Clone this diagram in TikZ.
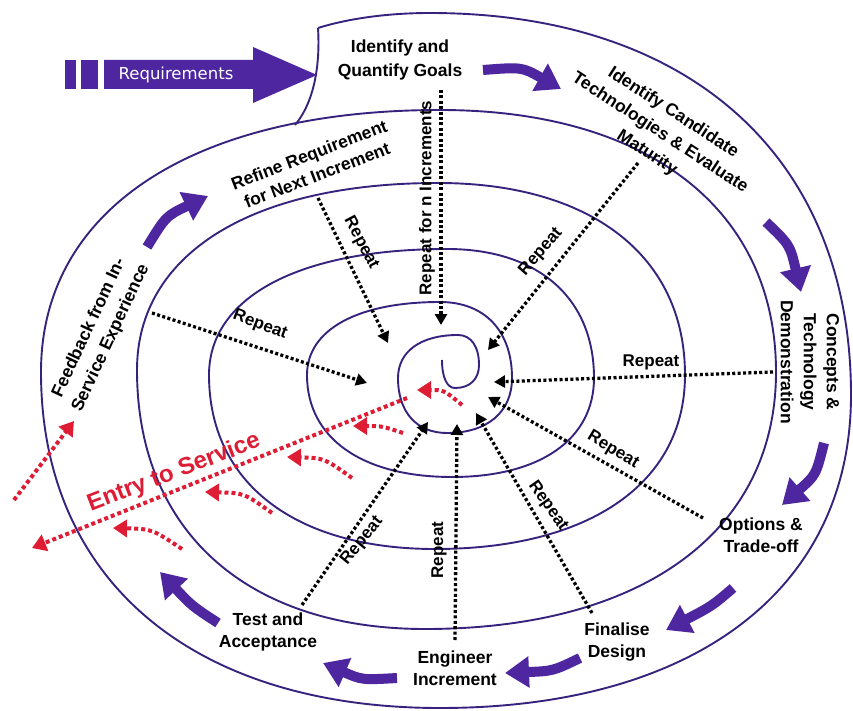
\documentclass[tikz,border=0pt]{standalone}
\usepackage{fontspec}
\setmainfont{Liberation Sans}
\newfontfamily\reqfont{DejaVu Sans}
\usetikzlibrary{arrows.meta,calc}

\definecolor{ringcol}{RGB}{55,35,125}
\definecolor{stepcol}{RGB}{78,38,160}
\definecolor{entrycol}{RGB}{222,28,52}

\begin{document}
\begin{tikzpicture}[x=1pt,y=-1pt,
  spiral/.style={draw=ringcol,line width=1.9pt},
  lbl/.style={font=\bfseries\fontsize{17.5}{22}\selectfont,align=center,inner sep=0pt},
  rep/.style={font=\bfseries\fontsize{17}{20}\selectfont,inner sep=0pt},
  repline/.style={draw=black,line width=3.3pt,dash pattern=on 3pt off 2.4pt,-{Triangle[width=12pt,length=11pt]}},
  redline/.style={draw=entrycol,line width=4pt,dash pattern=on 4pt off 3pt,-{Triangle[width=17pt,length=14pt]}},
  steparrow/.style={draw=stepcol,line width=10pt,-{Triangle[width=30pt,length=24pt]}}]

\fill[white] (0,0) rectangle (853,711);
\useasboundingbox (0,0) rectangle (853,711);
\clip (0,0) rectangle (853,711);

% ---------- spiral: tangent points, alternating vertical / horizontal tangents
\coordinate (p0) at (442,360);
\coordinate (p1) at (455,388);
\coordinate (p2) at (479,365);
\coordinate (p3) at (458,335);
\coordinate (p4) at (398,378);
\coordinate (p5) at (447,433);
\coordinate (p6) at (512,378);
\coordinate (p7) at (440,302);
\coordinate (p8) at (307,375);
\coordinate (p9) at (452,477);
\coordinate (p10) at (594,378);
\coordinate (p11) at (447,249);
\coordinate (p12) at (209,375);
\coordinate (p13) at (435,549);
\coordinate (p14) at (685,375);
\coordinate (p15) at (438,183);
\coordinate (p16) at (137,370);
\coordinate (p17) at (425,629);
\coordinate (p18) at (776,372);
\coordinate (p19) at (440,110);
\coordinate (p20) at (41,372);
\coordinate (p21) at (440,708);
\coordinate (p22) at (851,395);
\coordinate (p23) at (430,13);
\coordinate (gend) at (318,28);
\coordinate (gbot) at (295,125);

\def\kk{0.62}
\foreach \i in {0,...,22}{
  \pgfmathtruncatemacro\j{\i+1}
  \ifodd\i\relax
    \coordinate (k\i) at (p\j |- p\i);
  \else
    \coordinate (k\i) at (p\i |- p\j);
  \fi
  \coordinate (a\i) at ($(p\i)!\kk!(k\i)$);
  \coordinate (b\i) at ($(p\j)!\kk!(k\i)$);
}

\draw[spiral] (p0)
  .. controls (a0) and (b0) .. (p1)
  .. controls (a1) and (b1) .. (p2)
  .. controls (a2) and (b2) .. (p3)
  .. controls (a3) and (b3) .. (p4)
  .. controls (a4) and (b4) .. (p5)
  .. controls (a5) and (b5) .. (p6)
  .. controls (a6) and (b6) .. (p7)
  .. controls (a7) and (b7) .. (p8)
  .. controls (a8) and (b8) .. (p9)
  .. controls (a9) and (b9) .. (p10)
  .. controls (a10) and (b10) .. (p11)
  .. controls (a11) and (b11) .. (p12)
  .. controls (a12) and (b12) .. (p13)
  .. controls (a13) and (b13) .. (p14)
  .. controls (a14) and (b14) .. (p15)
  .. controls (a15) and (b15) .. (p16)
  .. controls (a16) and (b16) .. (p17)
  .. controls (a17) and (b17) .. (p18)
  .. controls (a18) and (b18) .. (p19)
  .. controls (a19) and (b19) .. (p20)
  .. controls (a20) and (b20) .. (p21)
  .. controls (a21) and (b21) .. (p22)
  .. controls (a22) and (b22) .. (p23)
  .. controls (390,13) and (350,18) .. (gend);
% left edge of the goals panel
\draw[spiral] (gend) .. controls (320,60) and (316,100) .. (gbot);

% ---------- Requirements input arrow
\fill[stepcol] (65,60) rectangle (76,89);
\fill[stepcol] (81,60) rectangle (98,89);
\fill[stepcol] (104,60) -- (253,60) -- (253,47) -- (317,75) -- (253,103) -- (253,89) -- (104,89) -- cycle;
\node[font=\reqfont\fontsize{16.5}{20}\selectfont,text=white,inner sep=0pt] (req) at (176,75) {Requirements};

% ---------- stage labels
\node[lbl,font=\bfseries\fontsize{17.5}{24}\selectfont] (goals) at (400,60) {Identify and\\Quantify Goals};
\node[lbl,font=\bfseries\fontsize{17.5}{24}\selectfont,rotate=-33] (cand) at (660,133) {Identify Candidate\\Technologies \& Evaluate\\Maturity};
\node[lbl,font=\bfseries\fontsize{17.5}{23}\selectfont,rotate=-90] (concepts) at (810,362) {Concepts \&\\Technology\\Demonstration};
\node[lbl] (options) at (761,535) {Options \&\\Trade-off};
\node[lbl] (final) at (617,642) {Finalise\\Design};
\node[lbl] (eng) at (455,668) {Engineer\\Increment};
\node[lbl] (test) at (268,632) {Test and\\Acceptance};
\node[lbl,font=\bfseries\fontsize{17.5}{24}\selectfont,rotate=65] (feedback) at (100,333) {Feedback from In-\\Service Experience};
\node[lbl,rotate=21] (refine) at (313,165) {Refine Requirement\\for Next Increment};

% ---------- stage-to-stage arrows
\coordinate (s1a) at (483,70);   \coordinate (s1b) at (561,89);
\coordinate (s2a) at (766,222);  \coordinate (s2b) at (801,292);
\coordinate (s3a) at (824,443);  \coordinate (s3b) at (782,505);
\coordinate (s4a) at (733,588);  \coordinate (s4b) at (666,630);
\coordinate (s5a) at (580,658);  \coordinate (s5b) at (505,673);
\coordinate (s6a) at (397,678);  \coordinate (s6b) at (323,663);
\coordinate (s7a) at (218,623);  \coordinate (s7b) at (160,572);
\coordinate (s8a) at (147,247);  \coordinate (s8b) at (208,196);
\draw[steparrow] (s1a) .. controls (522,67) .. (s1b);
\draw[steparrow] (s2a) .. controls (790,245) .. (s2b);
\draw[steparrow] (s3a) .. controls (816,475) .. (s3b);
\draw[steparrow] (s4a) .. controls (712,606) .. (s4b);
\draw[steparrow] (s5a) .. controls (553,671) .. (s5b);
\draw[steparrow] (s6a) .. controls (362,680) .. (s6b);
\draw[steparrow] (s7a) .. controls (192,606) .. (s7b);
\draw[steparrow] (s8a) .. controls (166,216) .. (s8b);

% ---------- repeat loops back to the centre
\coordinate (r1a) at (318,198); \coordinate (r1b) at (388,343);
\coordinate (r2a) at (441,90);  \coordinate (r2b) at (441,325);
\coordinate (r3a) at (638,163); \coordinate (r3b) at (488,350);
\coordinate (r4a) at (152,313); \coordinate (r4b) at (367,383);
\coordinate (r5a) at (773,372); \coordinate (r5b) at (494,382);
\coordinate (r6a) at (703,518); \coordinate (r6b) at (488,397);
\coordinate (r7a) at (592,613); \coordinate (r7b) at (476,413);
\coordinate (r8a) at (455,640); \coordinate (r8b) at (457,424);
\coordinate (r9a) at (302,605); \coordinate (r9b) at (428,422);
\foreach \n in {1,...,9}{\draw[repline] (r\n a) -- (r\n b);}

\node[rep,rotate=-62] (rep1) at (361,243) {Repeat};
\node[rep,rotate=90] (rep2) at (427,198) {Repeat for n Increments};
\node[rep,rotate=49] (rep3) at (541,252) {Repeat};
\node[rep,rotate=-21] (rep4) at (260,325) {Repeat};
\node[rep] (rep5) at (651,362) {Repeat};
\node[rep,rotate=-31] (rep6) at (613,450) {Repeat};
\node[rep,rotate=-55] (rep7) at (548,506) {Repeat};
\node[rep,rotate=90] (rep8) at (439,550) {Repeat};
\node[rep,rotate=51] (rep9) at (362,541) {Repeat};

% ---------- entry to service
\coordinate (e1a) at (407,398); \coordinate (e1b) at (32,548);
\coordinate (e2a) at (14,500);  \coordinate (e2b) at (74,421);
\draw[redline] (e1a) -- (e1b);
\draw[redline] (e2a) -- (e2b);
\coordinate (fa1) at (462,405); \coordinate (fb1) at (417,390);
\coordinate (fa2) at (403,433); \coordinate (fb2) at (353,426);
\coordinate (fa3) at (352,478); \coordinate (fb3) at (287,457);
\coordinate (fa4) at (272,513); \coordinate (fb4) at (205,492);
\coordinate (fa5) at (182,549); \coordinate (fb5) at (113,528);
\draw[redline] (fa1) .. controls (444,390) .. (fb1);
\draw[redline] (fa2) .. controls (382,426) .. (fb2);
\draw[redline] (fa3) .. controls (324,458) .. (fb3);
\draw[redline] (fa4) .. controls (244,493) .. (fb4);
\draw[redline] (fa5) .. controls (152,529) .. (fb5);
\node[font=\bfseries\fontsize{24}{28}\selectfont,text=entrycol,rotate=21,inner sep=0pt] (entry) at (174,473) {Entry to Service};

\end{tikzpicture}
\end{document}
